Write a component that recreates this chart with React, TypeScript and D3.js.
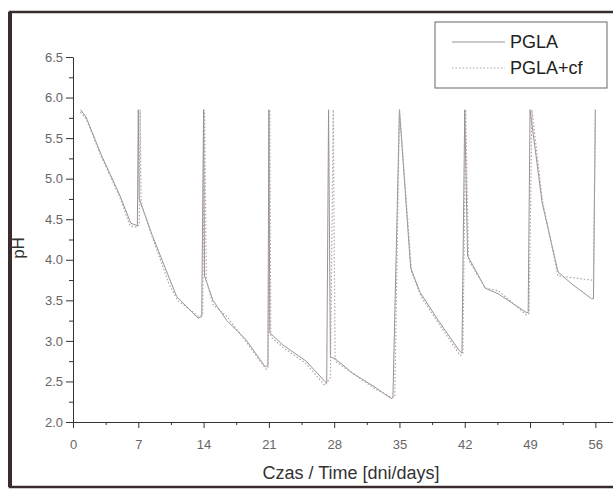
import React, { useEffect, useRef } from "react";
import * as d3 from "d3";

// PGLA (solid line)
const pglaDays = [0.8, 1.4, 3, 5, 6.2, 6.9, 7.0, 7.1, 8.5, 10.4, 11.1, 13.4, 13.8, 14.0, 14.1, 15, 16.5, 18.5, 20.6, 20.9, 21.0, 21.1, 22.5, 25, 27.0, 27.2, 27.4, 27.6, 28.1, 30, 32.5, 34.1, 34.3, 35.0, 36.2, 37.2, 39, 41.4, 41.7, 42.0, 42.3, 44.2, 45.6, 48.6, 48.8, 49.0, 50.3, 52, 53.5, 55.6, 55.8, 56.0];
const pglaPH = [5.85, 5.76, 5.3, 4.8, 4.45, 4.42, 5.85, 4.75, 4.3, 3.75, 3.55, 3.28, 3.3, 5.85, 3.8, 3.5, 3.25, 3.02, 2.68, 2.7, 5.85, 3.1, 2.95, 2.75, 2.5, 2.48, 5.85, 2.8, 2.78, 2.6, 2.42, 2.29, 2.3, 5.85, 3.9, 3.6, 3.28, 2.88, 2.85, 5.85, 4.05, 3.65, 3.58, 3.35, 3.35, 5.85, 4.7, 3.85, 3.7, 3.52, 3.52, 5.85];

// PGLA+cf (dotted line)
const cfDays = [0.8, 1.4, 3, 5, 6.1, 6.9, 7.1, 7.2, 7.3, 8.5, 10.3, 11.2, 13.5, 13.9, 14.1, 14.3, 15, 16.5, 18.5, 20.7, 20.9, 21.1, 21.2, 22.5, 25, 27.0, 27.6, 27.9, 28.1, 30, 32.5, 34.2, 34.5, 35.0, 36.3, 37.3, 39, 41.5, 41.8, 42.1, 42.4, 44.2, 45.6, 48.6, 48.9, 49.2, 50.3, 52, 53.5, 55.6, 55.8, 56.0];
const cfPH = [5.82, 5.74, 5.28, 4.78, 4.42, 4.4, 4.45, 5.85, 4.7, 4.28, 3.7, 3.5, 3.3, 3.32, 5.85, 3.75, 3.45, 3.3, 3.0, 2.65, 2.66, 5.85, 3.05, 2.92, 2.72, 2.45, 2.55, 5.85, 2.75, 2.6, 2.4, 2.3, 2.32, 5.85, 3.85, 3.55, 3.25, 2.82, 2.84, 5.85, 4.0, 3.65, 3.62, 3.32, 3.34, 5.85, 4.75, 3.8, 3.78, 3.75, 3.76, 5.85];

const xTicks = [0, 7, 14, 21, 28, 35, 42, 49, 56];
const yTicks = [2.0, 2.5, 3.0, 3.5, 4.0, 4.5, 5.0, 5.5, 6.0, 6.5];
const seriesNames = ["PGLA", "PGLA+cf"];

const font = "Liberation Sans, Arial, sans-serif";

export default function App() {
  const ref = useRef<SVGSVGElement>(null);

  useEffect(() => {
    const svg = d3.select(ref.current);
    svg.selectAll("*").remove();

    const x = d3.scaleLinear().domain([0, 58]).range([73, 614]);
    const y = d3.scaleLinear().domain([2, 6.5]).range([422, 57]);

    // scan frame
    svg.append("rect").attr("x", 10).attr("y", 12).attr("width", 620).attr("height", 475)
      .attr("fill", "#fff").attr("stroke", "#3a2c2c").attr("stroke-width", 2.5);
    svg.append("line").attr("x1", 10).attr("x2", 10).attr("y1", 12).attr("y2", 487)
      .attr("stroke", "#3a2c2c").attr("stroke-width", 4);

    // minor ticks
    const minorX = xTicks.map(d => d + 3.5);
    const minorY = yTicks.slice(0, -1).map(d => d + 0.25);
    svg.append("g").attr("transform", "translate(0,422)")
      .call(d3.axisBottom(x).tickValues(minorX).tickSize(3).tickSizeOuter(0).tickFormat(() => ""))
      .call(g => g.select(".domain").remove());
    svg.append("g").attr("transform", "translate(73,0)")
      .call(d3.axisLeft(y).tickValues(minorY).tickSize(4).tickSizeOuter(0).tickFormat(() => ""))
      .call(g => g.select(".domain").remove());

    const xAxis = svg.append("g").attr("transform", "translate(0,422)")
      .call(d3.axisBottom(x).tickValues(xTicks).tickSize(6).tickSizeOuter(0).tickPadding(10));
    const yAxis = svg.append("g").attr("transform", "translate(73,0)")
      .call(d3.axisLeft(y).tickValues(yTicks).tickSize(7).tickSizeOuter(0).tickFormat(d3.format(".1f")).tickPadding(3));

    svg.selectAll(".tick line, .domain").attr("stroke", "#333");
    [xAxis, yAxis].forEach(a => a.selectAll("text")
      .attr("font-family", font).attr("font-size", 13).attr("fill", "#666"));
    xAxis.selectAll("text").attr("dy", "0.85em");

    const line = d3.line<number>()
      .x((_, i) => x(pglaDays[i])).y(d => y(d));
    svg.append("path").datum(pglaPH).attr("d", line)
      .attr("fill", "none").attr("stroke", "#9a9292").attr("stroke-width", 1);

    const line2 = d3.line<number>()
      .x((_, i) => x(cfDays[i])).y(d => y(d));
    svg.append("path").datum(cfPH).attr("d", line2)
      .attr("fill", "none").attr("stroke", "#b0a4a4").attr("stroke-width", 1.2)
      .attr("stroke-dasharray", "1.5,2");

    // legend
    const lg = svg.append("g");
    lg.append("rect").attr("x", 435).attr("y", 22).attr("width", 172).attr("height", 66)
      .attr("fill", "#fff").attr("stroke", "#666").attr("stroke-width", 1);
    seriesNames.forEach((name, i) => {
      const ly = 42 + i * 26;
      lg.append("line").attr("x1", 452).attr("x2", 505).attr("y1", ly).attr("y2", ly)
        .attr("stroke", i === 0 ? "#9a9292" : "#b0a4a4").attr("stroke-width", 1)
        .attr("stroke-dasharray", i === 0 ? null : "1.5,2");
      lg.append("text").attr("x", 510).attr("y", ly + 6).text(name)
        .attr("font-family", font).attr("font-size", 18).attr("fill", "#222");
    });

    // axis titles
    svg.append("text").attr("x", 351).attr("y", 479).attr("text-anchor", "middle")
      .attr("font-family", font).attr("font-size", 18).attr("fill", "#333")
      .text("Czas / Time [dni/days]");
    svg.append("text").attr("transform", "translate(24,248) rotate(-90)").attr("text-anchor", "middle")
      .attr("font-family", font).attr("font-size", 17).attr("fill", "#333")
      .text("pH");
  }, []);

  return (
    <svg ref={ref} width={613} height={490}
      style={{ position: "absolute", left: 0, top: 0, background: "#fff" }} />
  );
}
